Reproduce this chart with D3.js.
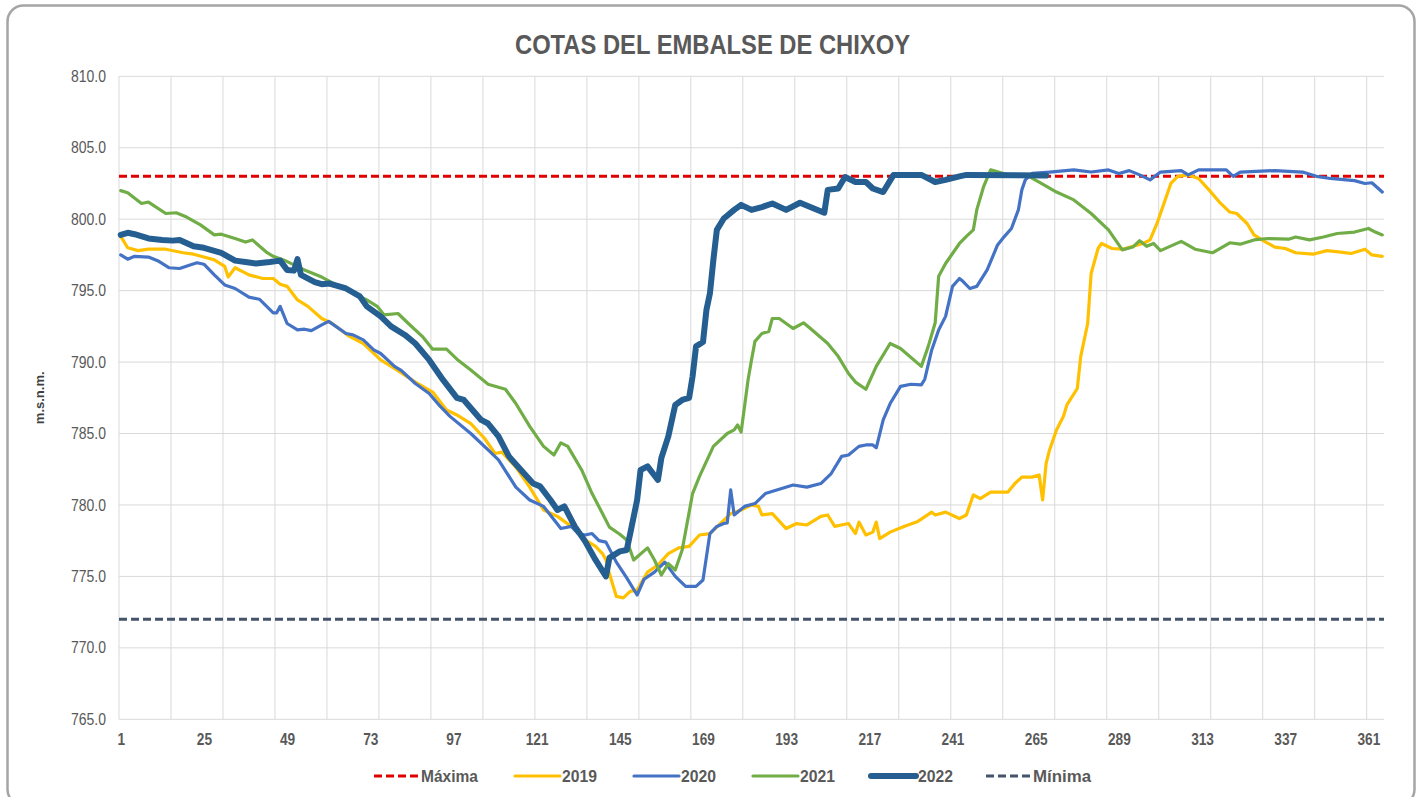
<!DOCTYPE html>
<html><head><meta charset="utf-8">
<script src="https://cdn.jsdelivr.net/npm/d3@7"></script>
<style>
html,body{margin:0;padding:0;background:#fff;}
svg text{font-family:"Liberation Sans Narrow","Arial Narrow","Liberation Sans",Arial,sans-serif;}
</style></head>
<body>
<svg id="chart" width="1422" height="797"></svg>
<script>
const title = "COTAS DEL EMBALSE DE CHIXOY";
const yTitle = "m.s.n.m.";
const xTickDays = [1,25,49,73,97,121,145,169,193,217,241,265,289,313,337,361];
const yTicks = [765,770,775,780,785,790,795,800,805,810];
const maxima = 803.0;
const minima = 772.0;

const days2019 = [1,3,6,9,14,19,22,25,28,31,32,34,38,42,45,47,49,52,55,59,62,67,71,76,81,86,91,95,98,102,106,109,111,115,119,123,127,131,135,138,140,141,142,144,146,148,150,153,156,159,162,165,168,171,174,177,180,183,185,186,189,193,196,199,203,205,207,211,213,214,216,218,219,220,223,227,231,235,236,239,243,245,247,249,252,257,259,261,264,266,267,268,269,271,273,274,277,278,280,281,283,284,287,290,296,298,300,302,304,306,309,312,315,318,321,323,326,328,331,334,337,340,345,349,353,356,360,362,365];
const vals2019 = [798.8,798.0,797.8,797.9,797.9,797.65,797.55,797.35,797.15,796.7,795.95,796.6,796.1,795.85,795.85,795.45,795.3,794.35,793.9,793.05,792.7,791.8,791.3,790.15,789.4,788.6,787.9,786.65,786.3,785.7,784.65,783.6,783.7,782.65,781.25,779.65,779.2,778.5,777.55,777.1,776.6,776.15,775.2,773.6,773.5,773.95,774.05,775.3,775.8,776.6,777.0,777.1,777.9,778.0,778.7,779.4,779.65,780.0,779.9,779.3,779.4,778.35,778.7,778.6,779.2,779.3,778.5,778.7,778.0,778.8,777.9,778.1,778.8,777.65,778.1,778.5,778.85,779.5,779.3,779.5,779.05,779.3,780.7,780.45,780.9,780.9,781.5,781.95,781.95,782.1,780.35,782.9,783.85,785.25,786.2,787.0,788.15,790.4,792.7,796.2,797.95,798.3,797.95,797.9,798.3,798.55,799.7,801.1,802.5,803.0,803.1,802.85,802.05,801.2,800.5,800.4,799.7,798.9,798.45,798.05,797.95,797.65,797.55,797.8,797.7,797.6,797.9,797.5,797.4];

const days2020 = [1,3,5,9,12,15,18,21,23,25,28,31,34,38,41,45,46,47,49,52,54,56,59,61,66,68,71,74,76,80,82,86,90,93,96,102,107,110,115,119,123,128,131,133,135,137,139,141,144,147,150,152,155,158,161,164,167,169,171,173,175,176,177,178,181,184,187,191,195,199,203,206,209,211,214,216,218,219,221,223,226,229,232,233,235,237,239,241,243,244,246,248,251,254,256,258,260,261,262,264,269,276,281,286,289,292,295,298,301,307,309,312,320,322,324,334,342,346,350,357,360,362,365];
const vals2020 = [797.5,797.2,797.4,797.35,797.05,796.6,796.55,796.8,796.95,796.85,796.1,795.4,795.15,794.55,794.4,793.45,793.45,793.9,792.7,792.25,792.3,792.2,792.6,792.85,792.0,791.9,791.55,790.85,790.6,789.7,789.4,788.5,787.8,786.95,786.2,785.0,783.85,783.15,781.25,780.35,779.9,778.35,778.5,778.0,777.9,778.0,777.5,777.4,776.0,774.9,773.7,774.8,775.3,776.0,775.0,774.3,774.3,774.75,778.0,778.5,778.7,778.75,781.05,779.3,779.9,780.1,780.8,781.1,781.4,781.25,781.5,782.2,783.4,783.5,784.1,784.2,784.2,784.0,785.95,787.1,788.3,788.45,788.4,788.8,790.85,792.25,793.2,795.3,795.85,795.65,795.15,795.3,796.45,798.2,798.8,799.35,800.65,802.05,802.75,803.2,803.3,803.45,803.3,803.45,803.2,803.4,803.1,802.75,803.3,803.4,803.1,803.45,803.45,803.0,803.3,803.4,803.3,803.0,802.85,802.7,802.5,802.55,801.9];

const days2021 = [1,3,7,9,14,17,20,24,28,30,34,37,39,43,45,48,54,59,64,69,72,75,77,81,84,88,91,95,98,102,107,112,115,119,123,126,128,130,134,137,140,142,145,147,149,153,155,157,159,161,163,166,168,172,176,178,179,180,181,182,183,184,186,188,189,191,195,198,200,205,208,211,213,216,219,223,226,232,234,236,237,239,241,243,245,247,248,250,252,257,263,266,271,276,281,286,290,293,295,297,299,301,307,311,316,321,324,328,332,338,340,344,348,352,357,361,363,365];
const vals2021 = [802.0,801.85,801.1,801.2,800.4,800.45,800.15,799.6,798.9,798.95,798.65,798.4,798.55,797.7,797.4,797.15,796.45,795.95,795.3,794.7,794.35,793.9,793.3,793.4,792.7,791.8,790.9,790.9,790.2,789.45,788.45,788.1,787.1,785.5,784.1,783.5,784.35,784.1,782.45,780.8,779.4,778.45,777.95,777.55,776.15,777.0,776.15,775.1,775.9,775.45,776.85,780.8,782.0,784.1,785.0,785.25,785.6,785.1,786.9,788.75,790.15,791.45,792.0,792.15,793.05,793.05,792.35,792.75,792.35,791.3,790.4,789.2,788.6,788.1,789.7,791.3,790.95,789.7,791.1,792.75,796.0,796.9,797.6,798.3,798.8,799.25,800.65,802.3,803.45,803.1,803.0,802.6,801.9,801.35,800.4,799.25,797.85,798.05,798.5,798.1,798.3,797.8,798.45,797.9,797.65,798.35,798.25,798.55,798.65,798.6,798.75,798.55,798.75,799.0,799.1,799.35,799.1,798.9];

const days2022 = [1,3,5,9,13,16,18,22,25,30,34,37,40,44,47,49,51,52,53,57,59,61,66,70,72,76,79,83,86,90,94,98,100,105,107,110,113,117,120,122,125,127,129,132,135,138,141,142,145,147,148,150,151,153,156,157,159,161,163,165,166,167,169,170,171,172,173,175,178,180,183,186,189,193,197,201,204,205,208,210,213,216,218,221,224,232,236,239,243,245,268];
const vals2022 = [798.9,799.05,798.95,798.65,798.55,798.5,798.55,798.1,798.0,797.65,797.1,797.0,796.9,797.0,797.1,796.45,796.4,797.2,796.1,795.6,795.45,795.5,795.15,794.6,793.9,793.2,792.5,791.9,791.3,790.15,788.75,787.5,787.35,785.95,785.7,784.8,783.4,782.3,781.5,781.3,780.35,779.65,779.9,778.5,777.45,776.15,775.0,776.3,776.75,776.85,778.0,780.35,782.45,782.7,781.75,783.3,784.8,787.0,787.35,787.5,789.0,791.1,791.4,793.65,794.8,797.15,799.25,800.05,800.65,801.0,800.65,800.85,801.1,800.65,801.15,800.75,800.45,802.05,802.15,802.95,802.6,802.6,802.15,801.9,803.1,803.1,802.6,802.75,803.0,803.1,803.05];

const series = [
  {name:"2019", days:days2019, vals:vals2019, color:"#FFC000", width:3.2},
  {name:"2020", days:days2020, vals:vals2020, color:"#4472C4", width:3.2},
  {name:"2021", days:days2021, vals:vals2021, color:"#70AD47", width:3.2},
  {name:"2022", days:days2022, vals:vals2022, color:"#255E91", width:6}
];
series.forEach(s=>{ if (s.days.length!==s.vals.length) console.error("length mismatch "+s.name+" "+s.days.length+" vs "+s.vals.length); });

const svg = d3.select("#chart");
const pLeft = 119, pRight = 1384, pTop = 76.3, pBottom = 719.3;

svg.append("rect").attr("x",7.5).attr("y",5.5).attr("width",1407).attr("height",800)
  .attr("rx",16).attr("fill","#fff").attr("stroke","#A5A5A5").attr("stroke-width",2.5);

const x = d3.scaleLinear().domain([0.5,365.5]).range([pLeft,pRight]);
const y = d3.scaleLinear().domain([765,810]).range([pBottom,pTop]);

// grid
const g = svg.append("g");
const vGrid = d3.range(0,25).map(i=>0.5+15*i);
g.selectAll("line.vg").data(vGrid).join("line").attr("class","vg")
  .attr("x1",d=>x(d)).attr("x2",d=>x(d)).attr("y1",pTop).attr("y2",pBottom)
  .attr("stroke","#D9D9D9").attr("stroke-width",1);
g.selectAll("line.hg").data(yTicks).join("line").attr("class","hg")
  .attr("x1",pLeft).attr("x2",pRight).attr("y1",d=>y(d)).attr("y2",d=>y(d))
  .attr("stroke","#D9D9D9").attr("stroke-width",1);

// axes
const yAxis = d3.axisLeft(y).tickValues(yTicks).tickFormat(d3.format(".1f")).tickSize(0).tickPadding(13);
const ya = svg.append("g").attr("transform",`translate(${pLeft},0)`).call(yAxis);
ya.select(".domain").remove();
ya.selectAll("text").attr("fill","#595959").style("font-size","16px")
  .attr("textLength",35).attr("lengthAdjust","spacingAndGlyphs");

const xAxis = d3.axisBottom(x).tickValues(xTickDays).tickFormat(d=>d).tickSize(0).tickPadding(14);
const xa = svg.append("g").attr("transform",`translate(0,${pBottom})`).call(xAxis);
xa.select(".domain").remove();
xa.selectAll("text").attr("fill","#595959").style("font-size","16px").style("font-weight","bold")
  .each(function(d){ const n = String(d).length; d3.select(this).attr("textLength", n*7.6).attr("lengthAdjust","spacingAndGlyphs"); });

// title
svg.append("text").attr("x",712.5).attr("y",54.3).attr("text-anchor","middle")
  .attr("fill","#595959").style("font-size","28px").style("font-weight","bold")
  .attr("textLength",395).attr("lengthAdjust","spacingAndGlyphs").text(title);
svg.append("text").attr("transform",`translate(44,${(pTop+pBottom)/2}) rotate(-90)`)
  .attr("text-anchor","middle").attr("fill","#404040").style("font-size","13px").style("font-weight","bold").text(yTitle);

// reference lines
const refLine = (v,color)=>svg.append("line").attr("x1",pLeft).attr("x2",pRight)
  .attr("y1",y(v)).attr("y2",y(v)).attr("stroke",color).attr("stroke-width",3)
  .attr("stroke-dasharray","8,4");
refLine(maxima,"#E00000");

const line = d3.line().x(d=>x(d[0])).y(d=>y(d[1])).curve(d3.curveLinear);
series.forEach(s=>{
  svg.append("path").datum(s.days.map((d,i)=>[d,s.vals[i]]))
    .attr("d",line).attr("fill","none").attr("stroke",s.color)
    .attr("stroke-width",s.width).attr("stroke-linejoin","round").attr("stroke-linecap","round");
});
refLine(minima,"#44546A");

// legend
const legendItems = [
  {name:"Máxima", color:"#E00000", width:3, dash:"8,4", x0:374, tw:57},
  {name:"2019", color:"#FFC000", width:3.2, dash:null, x0:515, tw:35},
  {name:"2020", color:"#4472C4", width:3.2, dash:null, x0:634, tw:35},
  {name:"2021", color:"#70AD47", width:3.2, dash:null, x0:753, tw:35},
  {name:"2022", color:"#255E91", width:6, dash:null, x0:871, tw:35},
  {name:"Mínima", color:"#44546A", width:3, dash:"8,4", x0:986, tw:58}
];
const ly = 776;
const lg = svg.append("g");
legendItems.forEach(it=>{
  lg.append("line").attr("x1",it.x0).attr("x2",it.x0+45).attr("y1",ly).attr("y2",ly)
    .attr("stroke",it.color).attr("stroke-width",it.width)
    .attr("stroke-dasharray",it.dash).attr("stroke-linecap",it.dash?"butt":"round");
  lg.append("text").attr("x",it.x0+47).attr("y",ly+6).attr("fill","#595959")
    .style("font-size","16.5px").style("font-weight","bold")
    .attr("textLength",it.tw).attr("lengthAdjust","spacingAndGlyphs").text(it.name);
});
</script>
</body></html>
